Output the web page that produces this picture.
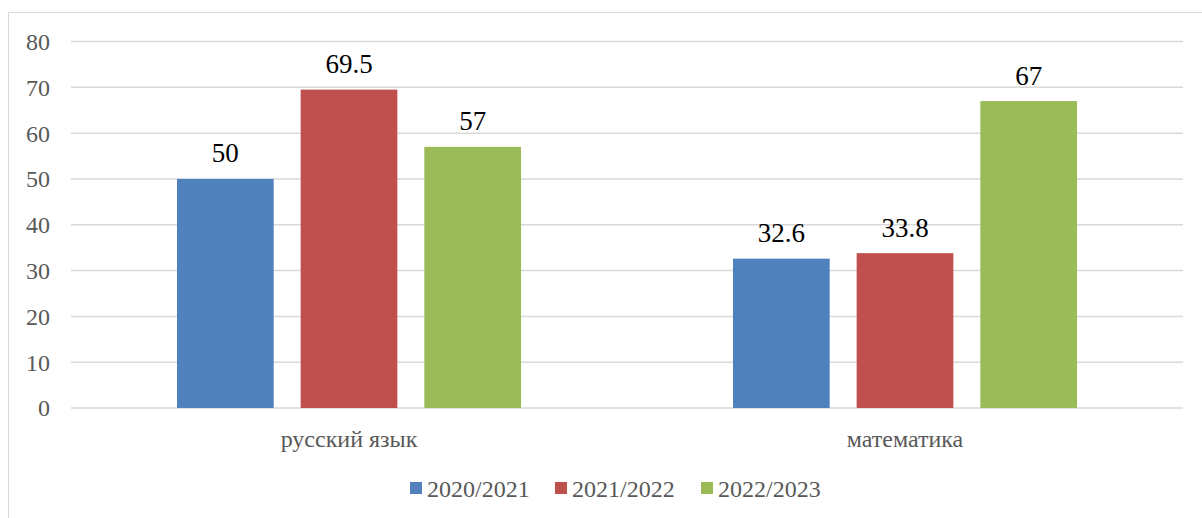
<!DOCTYPE html>
<html>
<head>
<meta charset="utf-8">
<script src="https://cdn.jsdelivr.net/npm/d3@7"></script>
<style>
  body { margin: 0; background: #fff; }
  svg { display: block; }
</style>
</head>
<body>
<div id="chart"></div>
<script>
const categories = ['русский язык', 'математика']
const seriesNames = ['2020/2021', '2021/2022', '2022/2023']
const values2020 = [50, 32.6]
const values2021 = [69.5, 33.8]
const values2022 = [57, 67]
const yTicks = [0, 10, 20, 30, 40, 50, 60, 70, 80]
const colors = ['#4f81bd', '#c0504d', '#9bbb59']

const width = 1202
const height = 518
const margin = { top: 41.5, left: 71, right: 19, bottom: 110 }
const serif = '"Times New Roman", Times, "Liberation Serif", Tinos, "DejaVu Serif", "Noto Serif", serif'

const seriesValues = [values2020, values2021, values2022]
const data = categories.map((c, i) => ({
  category: c,
  values: seriesNames.map((s, j) => ({ series: s, value: seriesValues[j][i] }))
}))

const svg = d3
  .select('#chart')
  .append('svg')
  .attr('width', width)
  .attr('height', height)
  .style('font-family', serif)

// chart border (clipped on right/bottom like the source)
svg
  .append('rect')
  .attr('x', 8.5)
  .attr('y', 12.5)
  .attr('width', 1400)
  .attr('height', 800)
  .attr('fill', 'none')
  .attr('stroke', '#d9d9d9')

const xScale = d3
  .scaleBand()
  .domain(categories)
  .range([margin.left, width - margin.right])

const xInner = d3
  .scaleBand()
  .domain(seriesNames)
  .range([0, xScale.bandwidth()])
  .paddingInner(0.218)
  .paddingOuter(0.857)

const yScale = d3
  .scaleLinear()
  .domain([0, 80])
  .range([height - margin.bottom, margin.top])

// gridlines
svg
  .selectAll('.grid')
  .data(yTicks)
  .enter()
  .append('line')
  .attr('class', 'grid')
  .attr('x1', margin.left)
  .attr('x2', width - margin.right)
  .attr('y1', d => yScale(d))
  .attr('y2', d => yScale(d))
  .attr('stroke', '#d9d9d9')
  .attr('stroke-width', 1.5)

// y axis labels
svg
  .selectAll('.ytick')
  .data(yTicks)
  .enter()
  .append('text')
  .attr('class', 'ytick')
  .attr('x', 50)
  .attr('y', d => yScale(d))
  .attr('dy', '0.35em')
  .attr('text-anchor', 'end')
  .attr('fill', '#595959')
  .attr('font-size', 24)
  .text(d => d)

const groups = svg
  .selectAll('.group')
  .data(data)
  .enter()
  .append('g')
  .attr('class', 'group')
  .attr('transform', d => `translate(${xScale(d.category)},0)`)

groups
  .selectAll('rect')
  .data(d => d.values)
  .enter()
  .append('rect')
  .attr('x', d => xInner(d.series))
  .attr('y', d => yScale(d.value))
  .attr('width', xInner.bandwidth())
  .attr('height', d => yScale(0) - yScale(d.value))
  .attr('fill', (d, i) => colors[i])

groups
  .selectAll('.label')
  .data(d => d.values)
  .enter()
  .append('text')
  .attr('class', 'label')
  .attr('x', d => xInner(d.series) + xInner.bandwidth() / 2)
  .attr('y', d => yScale(d.value) - 16.5)
  .attr('text-anchor', 'middle')
  .attr('font-size', 27)
  .attr('fill', '#000')
  .text(d => d.value)

// category labels
svg
  .selectAll('.xlabel')
  .data(categories)
  .enter()
  .append('text')
  .attr('class', 'xlabel')
  .attr('x', d => xScale(d) + xScale.bandwidth() / 2)
  .attr('y', 447)
  .attr('text-anchor', 'middle')
  .attr('fill', '#595959')
  .attr('font-size', 24)
  .text(d => d)

// legend
const legendX = [410, 555, 701]
const legend = svg
  .selectAll('.legend')
  .data(seriesNames)
  .enter()
  .append('g')
  .attr('class', 'legend')
  .attr('transform', (d, i) => `translate(${legendX[i]},482)`)

legend
  .append('rect')
  .attr('width', 12)
  .attr('height', 12)
  .attr('fill', (d, i) => colors[i])

legend
  .append('text')
  .attr('x', 17)
  .attr('y', 15)
  .attr('fill', '#595959')
  .attr('font-size', 24)
  .text(d => d)
</script>
</body>
</html>
